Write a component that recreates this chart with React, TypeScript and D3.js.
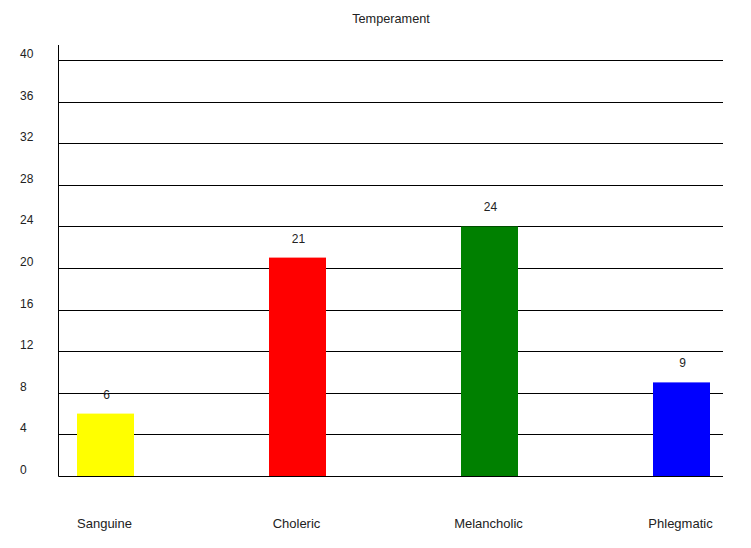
import React from "react";
import * as d3 from "d3";

const categories = ["Sanguine", "Choleric", "Melancholic", "Phlegmatic"];
const values = [6, 21, 24, 9];
const colors = ["#ffff00", "#ff0000", "#008000", "#0000ff"];
const yTicks = [0, 4, 8, 12, 16, 20, 24, 28, 32, 36, 40];
const title = "Temperament";

export default function App() {
  const W = 751;
  const H = 548;
  const left = 58.5;
  const right = 723;
  const y = d3.scaleLinear().domain([0, 40]).range([476, 60]);
  const x = d3
    .scaleBand<string>()
    .domain(categories)
    .range([77, 710])
    .paddingInner(135 / 192)
    .paddingOuter(0);
  const font = "'Liberation Sans', Arial, sans-serif";
  return (
    <svg
      width={W}
      height={H}
      style={{ position: "absolute", left: 0, top: 0, background: "#fff" }}
      fontFamily={font}
    >
      <text x={391} y={22.5} textAnchor="middle" fontSize={12.7} fill="#222">
        {title}
      </text>
      {yTicks.map((t) => (
        <g key={t}>
          <line
            x1={left}
            x2={right}
            y1={Math.round(y(t)) + 0.5}
            y2={Math.round(y(t)) + 0.5}
            stroke="#000"
            strokeWidth={1}
          />
          <text x={20} y={y(t) - 2} fontSize={12} fill="#222">
            {t}
          </text>
        </g>
      ))}
      <line x1={left} x2={left} y1={45} y2={476.5} stroke="#000" strokeWidth={1} />
      {categories.map((c, i) => (
        <g key={c}>
          <rect
            x={x(c)}
            y={y(values[i])}
            width={x.bandwidth()}
            height={y(0) - y(values[i])}
            fill={colors[i]}
          />
          <text
            x={(x(c) as number) + x.bandwidth() / 2 + 1}
            y={y(values[i]) - 15}
            textAnchor="middle"
            fontSize={12}
            fill="#222"
          >
            {values[i]}
          </text>
          <text
            x={(x(c) as number) + x.bandwidth() / 2 - 1}
            y={527.5}
            textAnchor="middle"
            fontSize={13}
            fill="#222"
          >
            {c}
          </text>
        </g>
      ))}
    </svg>
  );
}
